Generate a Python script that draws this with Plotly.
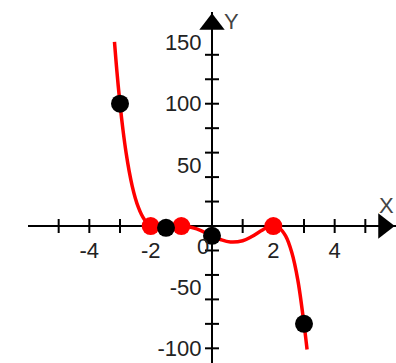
import plotly.graph_objects as go

# ---- data ----
curve_x = [-3.18, -3.1, -3.0, -2.9, -2.8, -2.7, -2.6, -2.5, -2.4, -2.3, -2.2, -2.1, -2.0,
           -1.8, -1.5, -1.2, -1.0, -0.8, -0.5, -0.2, 0.0, 0.3, 0.6, 1.0, 1.3, 1.6, 1.8,
           2.0, 2.2, 2.4, 2.6, 2.8, 3.0, 3.1]
curve_y = [150.5, 126.2, 100.0, 78.0, 59.7, 44.7, 32.5, 22.8, 15.2, 9.4, 5.1, 2.0, 0.0,
           -1.85, -1.53, -0.33, 0.0, -0.38, -2.34, -5.58, -8.0, -11.2, -13.0, -12.0, -8.55,
           -3.89, -1.19, 0.0, -1.72, -8.14, -21.5, -44.4, -80.0, -101.0]

red_x = [-2, -1, 2]
red_y = [0, 0, 0]

black_x = [-3, -1.5, 0, 3]
black_y = [100, -1.5, -8, -80]

xtick_vals = [-4, -2, 2, 4]
xtick_text = ["-4", "-2", "2", "4"]
ytick_vals = [-100, -50, 50, 100, 150]
ytick_text = ["-100", "-50", "50", "100", "150"]

xmark_vals = [-5, -4, -3, -2, -1, 1, 2, 3, 4, 5]
ymark_vals = [-100, -80, -60, -40, -20, 20, 40, 60, 80, 100, 120, 140]

# ---- styling ----
W, H = 396, 363
FONT = "Liberation Sans, Arial, sans-serif"
TXT = "#222222"

fig = go.Figure()

# tick crosses
fig.add_trace(go.Scatter(x=xmark_vals, y=[0] * len(xmark_vals), mode="markers",
                         marker=dict(symbol="line-ns", size=10,
                                     line=dict(width=2, color="black")),
                         hoverinfo="skip", showlegend=False))
fig.add_trace(go.Scatter(x=[0] * len(ymark_vals), y=ymark_vals, mode="markers",
                         marker=dict(symbol="line-ew", size=10,
                                     line=dict(width=2, color="black")),
                         hoverinfo="skip", showlegend=False))

# arrowheads
fig.add_trace(go.Scatter(x=[0], y=[165], mode="markers", cliponaxis=False,
                         marker=dict(symbol="triangle-up", size=22, color="black"),
                         hoverinfo="skip", showlegend=False))
fig.add_trace(go.Scatter(x=[5.6], y=[0], mode="markers", cliponaxis=False,
                         marker=dict(symbol="triangle-right", size=22, color="black"),
                         hoverinfo="skip", showlegend=False))

# curve
fig.add_trace(go.Scatter(x=curve_x, y=curve_y, mode="lines", line_shape="spline",
                         line=dict(color="#ff0000", width=3.5),
                         showlegend=False))
# points
fig.add_trace(go.Scatter(x=red_x, y=red_y, mode="markers",
                         marker=dict(color="#ff0000", size=18, line=dict(width=0)),
                         showlegend=False))
fig.add_trace(go.Scatter(x=black_x, y=black_y, mode="markers",
                         marker=dict(color="black", size=18, line=dict(width=0)),
                         showlegend=False))

fig.update_layout(
    width=W, height=H,
    margin=dict(l=0, r=0, t=0, b=0, autoexpand=False),
    paper_bgcolor="white", plot_bgcolor="white",
    font=dict(family=FONT, size=22, color=TXT),
    xaxis=dict(range=[-6, 6], domain=[28 / W, 1], anchor="free", position=137 / H,
               showgrid=False, zeroline=False, showline=True, linecolor="black",
               linewidth=2, layer="below traces", ticks="",
               tickmode="array", tickvals=xtick_vals, ticktext=xtick_text,
               ticklabelstandoff=5),
    yaxis=dict(range=[-112, 175], domain=[0, 351 / H], anchor="free", position=212 / W,
               showgrid=False, zeroline=False, showline=True, linecolor="black",
               linewidth=2, layer="below traces", ticks="",
               tickmode="array", tickvals=ytick_vals, ticktext=ytick_text,
               ticklabelstandoff=5),
    annotations=[
        dict(text="X", x=1, xref="paper", y=0, yref="y", xanchor="right", yanchor="bottom",
             xshift=0, yshift=6, showarrow=False, font=dict(size=22, color="#444")),
        dict(text="Y", x=0, xref="x", y=1, yref="paper", xanchor="left", yanchor="top",
             xshift=10, yshift=-7, showarrow=False, font=dict(size=22, color="#444")),
        dict(text="0", x=0, xref="x", y=0, yref="y", xanchor="right", yanchor="top",
             xshift=-1, yshift=-6, showarrow=False, font=dict(size=22, color=TXT)),
    ],
)

fig.write_html(
    "out.html",
    config={"displayModeBar": False},
    post_script="document.body.style.margin='0';document.body.style.overflow='hidden';",
)
